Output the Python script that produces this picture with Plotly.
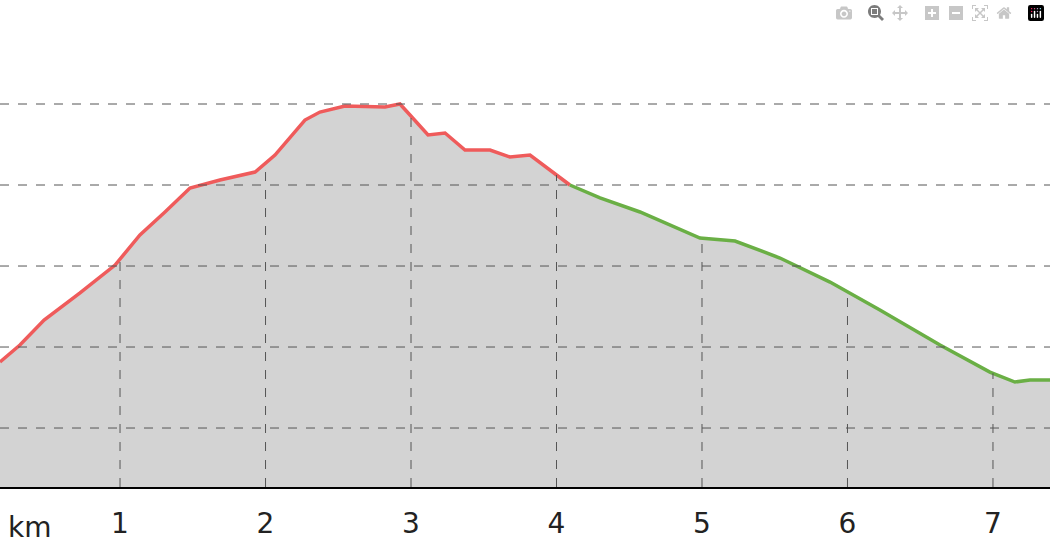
import plotly.graph_objects as go
import numpy as np

km = [0.175,0.312,0.478,0.725,0.966,1.137,1.309,1.481,1.687,1.928,2.065,2.271,2.374,2.546,2.821,2.924,2.993,3.117,3.234,3.371,3.543,3.680,3.818,3.955,4.092,
      4.299,4.574,4.986,5.227,5.536,5.880,6.223,6.636,6.979,7.151,7.254,7.392]
elev = [181.5,202.5,233.3,266.7,301.2,338.3,366.7,396.3,406.2,416,437,480.2,490.1,497.5,496.3,500,486.4,461.7,464.2,443.2,443.2,434.6,437,418.5,400,
        384,366.7,334.6,330.9,309.9,280.2,245.7,202.5,169.1,156.8,159.3,159.3]
split = 24
tick_vals = [1,2,3,4,5,6,7]
grid_y = [100,200,300,400,500]
y_min, y_max = 27.2, 628.4

fig = go.Figure()
fig.add_trace(go.Scatter(x=km, y=elev, fill='tozeroy', fillcolor='#d3d3d3', mode='none', hoverinfo='skip'))
fig.add_trace(go.Scatter(x=km[:split+1], y=elev[:split+1], mode='lines', line=dict(color='#ef5b5b', width=3.5)))
fig.add_trace(go.Scatter(x=km[split:], y=elev[split:], mode='lines', line=dict(color='#6aaf45', width=3.5)))

for gy in grid_y:
    fig.add_shape(type='line', xref='paper', x0=0, x1=1, yref='y', y0=gy, y1=gy,
                  line=dict(color='#555', width=1, dash='dash'), layer='above')
for tv in tick_vals:
    top = float(np.interp(tv, km, elev))
    fig.add_shape(type='line', xref='x', x0=tv, x1=tv, yref='y', y0=y_min, y1=top,
                  line=dict(color='#555', width=1, dash='dash'), layer='above')

fig.update_layout(
    width=1050, height=560, showlegend=False,
    margin=dict(l=0, r=0, t=0, b=73),
    plot_bgcolor='white', paper_bgcolor='white',
    font=dict(family='DejaVu Sans', size=28, color='#222'),
    xaxis=dict(range=[0.175, 7.392], tickvals=tick_vals, ticks='', showgrid=False, zeroline=False,
               showline=True, linecolor='black', linewidth=2, ticklabelstandoff=10),
    yaxis=dict(range=[y_min, y_max], showticklabels=False, showgrid=False, zeroline=False),
)
fig.add_annotation(x=0, xref='paper', y=-0.045, yref='paper', xanchor='left', yanchor='top',
                   text='km', showarrow=False, font=dict(size=28, family='DejaVu Sans', color='#222'), xshift=6)
fig.write_html("out.html", post_script="document.body.style.margin='0';")
